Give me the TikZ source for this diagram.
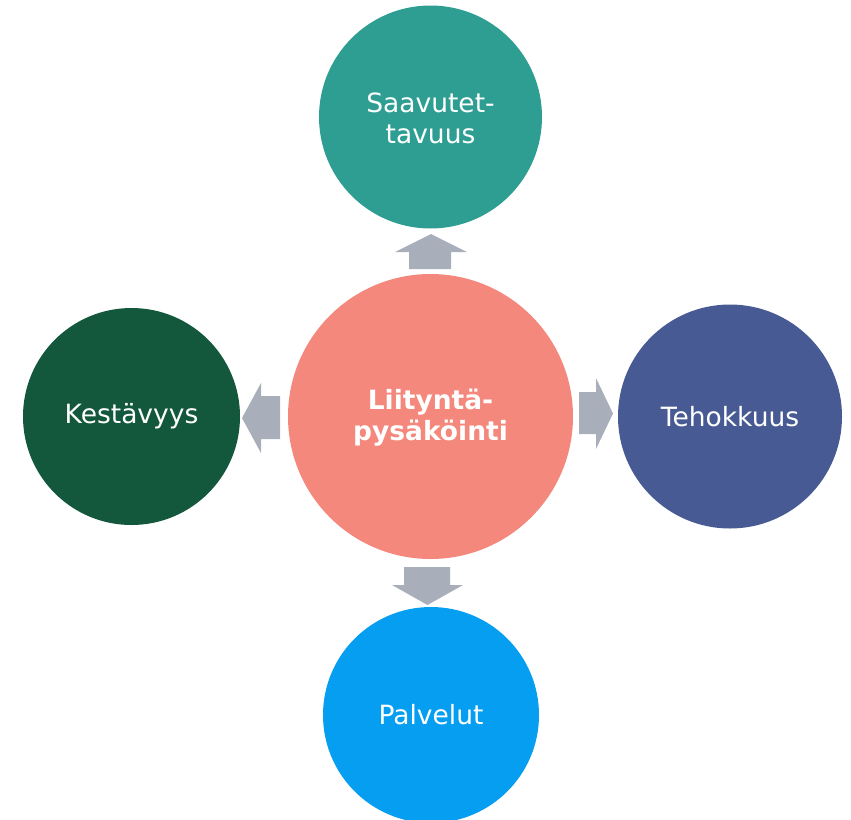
\documentclass[tikz,border=0pt]{standalone}
\usepackage{fontspec}
\setmainfont{DejaVu Sans}
\definecolor{cteal}{HTML}{2E9E93}
\definecolor{csalmon}{HTML}{F4887D}
\definecolor{cnavy}{HTML}{475A93}
\definecolor{cgreen}{HTML}{13583D}
\definecolor{cblue}{HTML}{059EF0}
\definecolor{carrow}{HTML}{A9AEBB}
\begin{document}
\begin{tikzpicture}[x=1pt,y=-1pt,
  bubble/.style={circle,inner sep=0pt,text=white,align=center,font=\fontsize{26.5}{31}\selectfont},
  blockarrow/.style={fill=carrow,draw=none}]
\useasboundingbox (0,0) rectangle (851,819);
\fill[cteal] (430.5,117) circle (111.5);
\node[bubble] (top) at (430.5,118) {Saavutet-\\tavuus};
\fill[csalmon] (430.5,416.5) circle (142.5);
\node[bubble,font=\fontsize{26.5}{31}\selectfont\bfseries] (mid) at (430.5,418) {Liityntä-\\pysäköinti};
\fill[cnavy] (730,416.5) circle (112);
\node[bubble] (right) at (730,416.5) {Tehokkuus};
\fill[cgreen] (131.5,416.5) circle (108.5);
\node[bubble] (left) at (131.5,416.5) {Kestävyys};
\fill[cblue] (431,715) circle (108);
\node[bubble] (bottom) at (431,715) {Palvelut};
% block arrows
\fill[blockarrow] (409,269) -- (409,252) -- (395,252) -- (431,234) -- (467,252) -- (451,252) -- (451,269) -- cycle;
\fill[blockarrow] (579,392) -- (596,392) -- (596,378) -- (613,413.5) -- (596,449) -- (596,434) -- (579,434) -- cycle;
\fill[blockarrow] (280,396) -- (261,396) -- (261,383) -- (242,418) -- (261,453) -- (261,439) -- (280,439) -- cycle;
\fill[blockarrow] (404,567) -- (450,567) -- (450,585) -- (463,585) -- (427.5,605) -- (392,585) -- (404,585) -- cycle;
\end{tikzpicture}
\end{document}
